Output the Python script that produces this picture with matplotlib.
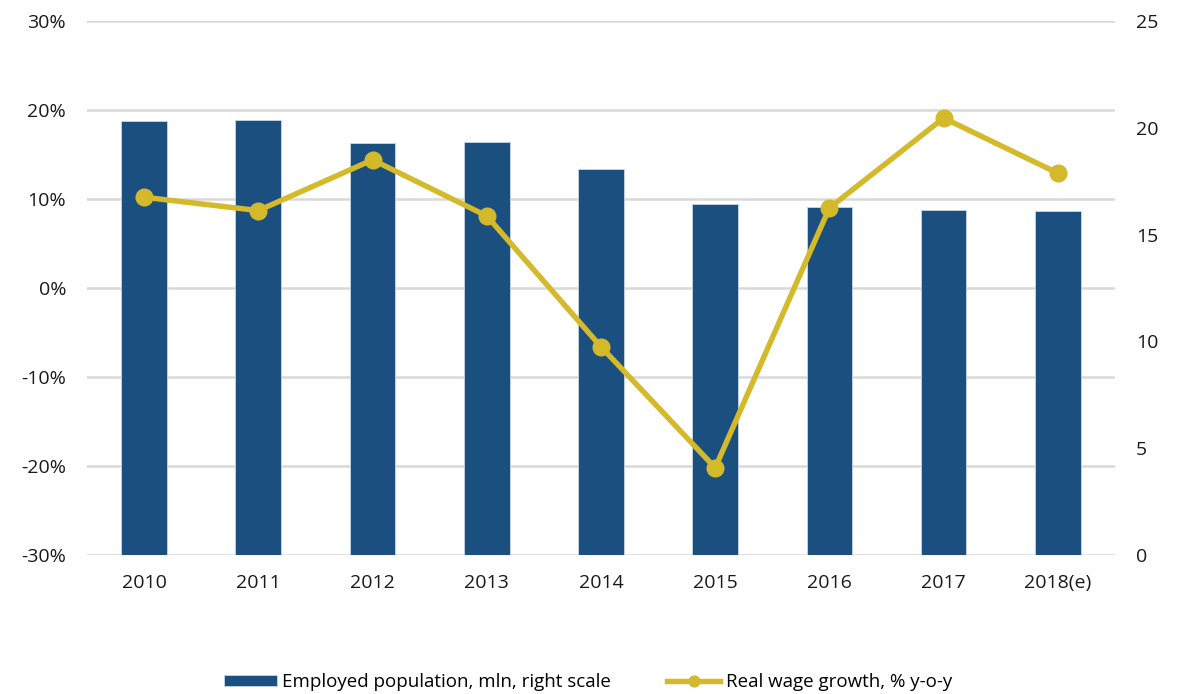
import matplotlib
matplotlib.use("Agg")
import matplotlib.pyplot as plt
from matplotlib.ticker import FuncFormatter

plt.rcParams['font.family'] = ['Open Sans', 'DejaVu Sans']

years = ["2010", "2011", "2012", "2013", "2014", "2015", "2016", "2017", "2018(e)"]
employed_mln = [20.33, 20.36, 19.27, 19.32, 18.09, 16.45, 16.28, 16.17, 16.12]
real_wage_growth = [10.2, 8.7, 14.4, 8.1, -6.6, -20.2, 9.0, 19.1, 12.9]

bar_color = "#1B4F80"
line_color = "#D4B92A"
grid_color = "#D9D9D9"
text_color = "#1a1a1a"

fig = plt.figure(figsize=(11.83, 6.94), dpi=100)
rect = [0.0735, 0.2003, 0.869, 0.7694]

# bottom layer: percent scale, gridlines and left labels
ax = fig.add_axes(rect)
# middle layer: employed population bars on the right scale
axb = ax.twinx()
# top layer: wage growth line sharing the percent scale
axl = fig.add_axes(rect, sharex=ax, sharey=ax)

x = list(range(len(years)))

ax.set_ylim(-30, 30)
ax.set_yticks(range(-30, 31, 10))
ax.yaxis.set_major_formatter(FuncFormatter(lambda v, p: f"{v:.0f}%"))
ax.yaxis.grid(True, color=grid_color, linewidth=1.8)
ax.set_xlim(-0.5, len(years) - 0.5)
ax.set_xticks(x)
ax.set_xticklabels(years)

bars = axb.bar(x, employed_mln, width=0.4, color=bar_color,
               edgecolor="#C9D6E3", linewidth=0.6,
               label="Employed population, mln, right scale")
axb.set_ylim(0, 25)
axb.set_yticks(range(0, 26, 5))
axb.patch.set_visible(False)

line, = axl.plot(x, real_wage_growth, color=line_color, linewidth=3.9,
                 marker="o", markersize=12,
                 label="Real wage growth, % y-o-y")
axl.patch.set_visible(False)
axl.axis("off")

ax.set_zorder(0)
axb.set_zorder(1)
axl.set_zorder(2)

for a in (ax, axb):
    for s in a.spines.values():
        s.set_visible(False)
    a.tick_params(length=0, labelsize=14, colors=text_color)
ax.tick_params(axis="y", pad=15)
ax.tick_params(axis="x", pad=14)
axb.tick_params(axis="y", pad=15)

fig.legend([bars, line], [bars.get_label(), line.get_label()],
           loc="center", bbox_to_anchor=(0.497, 0.017), ncol=2, frameon=False,
           fontsize=13.5, handlelength=2.8, handleheight=0.55,
           markerscale=0.65, columnspacing=3.0, handletextpad=0.3)

fig.savefig("out.png", dpi=100)
